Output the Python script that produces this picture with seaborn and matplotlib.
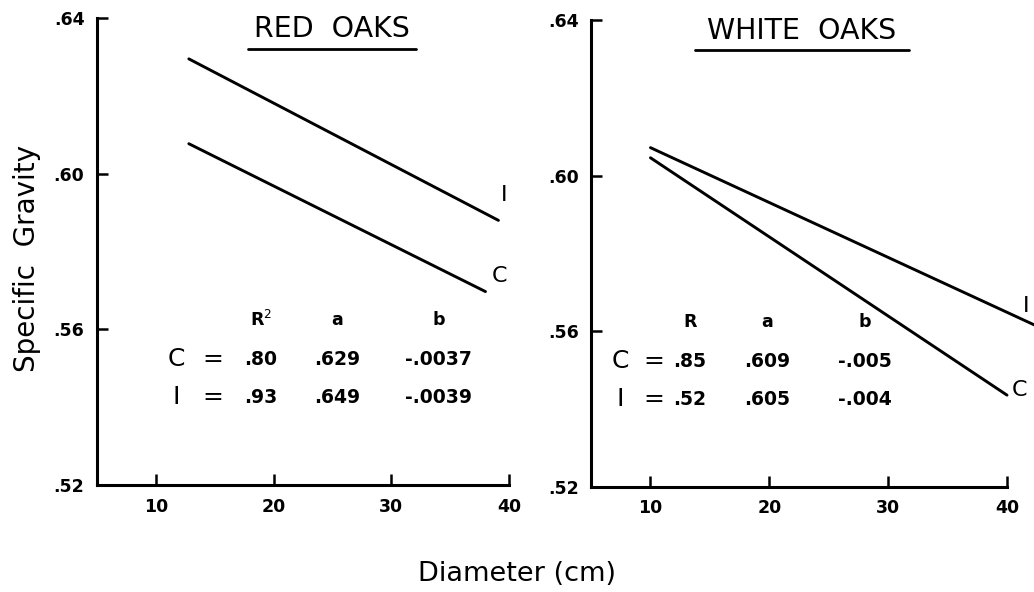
import numpy as np
import pandas as pd
import matplotlib.pyplot as plt
import seaborn as sns

# --- Data ---
red_I_x = [12.8, 39.1]
red_I_y = [0.6295, 0.5880]
red_C_x = [12.8, 38.0]
red_C_y = [0.6077, 0.5697]

white_I_x = [10.0, 42.4]
white_I_y = [0.6072, 0.5615]
white_C_x = [10.0, 40.0]
white_C_y = [0.6046, 0.5436]

y_ticks = [0.52, 0.56, 0.60, 0.64]
y_tick_labels = [".52", ".56", ".60", ".64"]
x_ticks = [10, 20, 30, 40]

red_header = ["R$^2$", "a", "b"]
red_row_C = [".80", ".629", "-.0037"]
red_row_I = [".93", ".649", "-.0039"]
white_header = ["R", "a", "b"]
white_row_C = [".85", ".609", "-.005"]
white_row_I = [".52", ".605", "-.004"]

sns.set_style("ticks")
plt.rcParams['font.family'] = ['DejaVu Sans']
plt.rcParams['text.color'] = 'black'

fig = plt.figure(figsize=(10.34, 5.92), dpi=100)
ax_red = fig.add_axes([0.0938, 0.1807, 0.3985, 0.7889])
ax_white = fig.add_axes([0.5716, 0.1774, 0.4023, 0.7888])

title_font = dict(family='DejaVu Sans', fontsize=20.5, color='black')
num_font = dict(family='DejaVu Sans', fontweight='bold', fontsize=13.5, color='black')
letter_font = dict(family='DejaVu Sans', fontsize=16, color='black')


def lines_df(ix, iy, cx, cy):
    return pd.DataFrame({
        "diameter": ix + cx,
        "sg": iy + cy,
        "type": ["I"] * len(ix) + ["C"] * len(cx),
    })


def style_axis(ax):
    ax.set_xlim(5, 40)
    ax.set_ylim(0.52, 0.64)
    sns.despine(ax=ax)
    for s in ["left", "bottom"]:
        ax.spines[s].set_linewidth(2.2)
        ax.spines[s].set_color("black")
    ax.set_yticks(y_ticks)
    ax.set_yticklabels(y_tick_labels)
    ax.set_xticks(x_ticks)
    ax.tick_params(direction="in", length=8, width=1.8, colors="black", pad=9)
    for lab in ax.get_xticklabels() + ax.get_yticklabels():
        lab.set_fontweight("bold")
        lab.set_fontsize(12.5)
    ax.set_xlabel("")
    ax.set_ylabel("")
    ax.set_facecolor("white")
    ax.grid(False)


def draw_table(ax, xs, header, row_c, row_i, label_x, eq_x):
    ys = [0.5623, 0.5523, 0.5426]
    for x, h in zip(xs, header):
        ax.text(x, ys[0], h, ha="center", va="center", **dict(num_font, fontsize=12.5))
    for x, v in zip(xs, row_c):
        ax.text(x, ys[1], v, ha="center", va="center", **num_font)
    for x, v in zip(xs, row_i):
        ax.text(x, ys[2], v, ha="center", va="center", **num_font)
    ax.text(label_x, ys[1], "C", ha="center", va="center", **dict(letter_font, fontsize=18))
    ax.text(label_x, ys[2], "I", ha="center", va="center", **dict(letter_font, fontsize=18))
    ax.text(eq_x, ys[1], "=", ha="center", va="center", **dict(letter_font, fontsize=18))
    ax.text(eq_x, ys[2], "=", ha="center", va="center", **dict(letter_font, fontsize=18))


# --- Red oaks ---
df_red = lines_df(red_I_x, red_I_y, red_C_x, red_C_y)
sns.lineplot(data=df_red, x="diameter", y="sg", units="type", estimator=None,
             color="black", linewidth=2.1, ax=ax_red)
style_axis(ax_red)
ax_red.text(39.3, 0.5945, "I", ha="left", va="center", **letter_font)
ax_red.text(38.5, 0.5737, "C", ha="left", va="center", **letter_font)
draw_table(ax_red, [18.9, 25.4, 34.0], red_header, red_row_C, red_row_I, 11.7, 14.8)

# --- White oaks ---
df_white = lines_df(white_I_x, white_I_y, white_C_x, white_C_y)
sns.lineplot(data=df_white, x="diameter", y="sg", units="type", estimator=None,
             color="black", linewidth=2.1, ax=ax_white)
style_axis(ax_white)
for ln in ax_white.lines:
    ln.set_clip_on(False)
ax_white.text(41.3, 0.5665, "I", ha="left", va="center", **letter_font)
ax_white.text(40.4, 0.5448, "C", ha="left", va="center", **letter_font)
draw_table(ax_white, [13.3, 19.8, 28.0], white_header, white_row_C, white_row_I, 7.5, 10.3)

# Titles with underline
fig.text(0.321, 0.951, "RED  OAKS", ha="center", va="center", **title_font)
fig.add_artist(plt.Line2D([0.240, 0.402], [0.918, 0.918], color="black", linewidth=2))
fig.text(0.775, 0.947, "WHITE  OAKS", ha="center", va="center", **title_font)
fig.add_artist(plt.Line2D([0.672, 0.879], [0.915, 0.915], color="black", linewidth=2))

fig.text(0.026, 0.5625, "Specific  Gravity", rotation=90, ha="center", va="center",
         family='DejaVu Sans', fontsize=20, color='black')
fig.text(0.5, 0.030, "Diameter (cm)", ha="center", va="center",
         family='DejaVu Sans', fontsize=19.5, color='black')

fig.savefig("out.png", dpi=100, facecolor="white")
